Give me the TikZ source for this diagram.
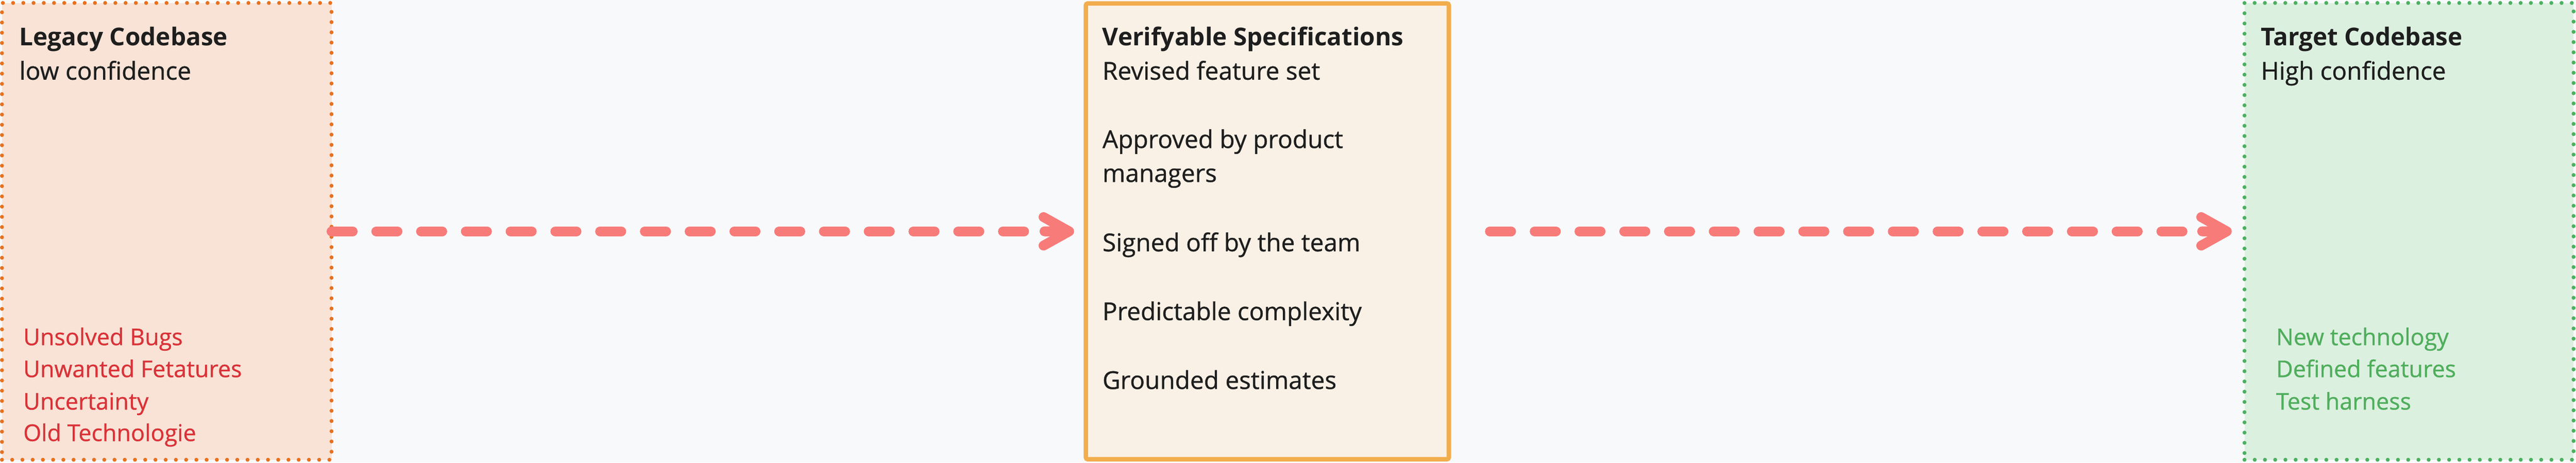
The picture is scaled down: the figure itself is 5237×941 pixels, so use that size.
\documentclass[tikz,border=0pt]{standalone}
\usepackage{fontspec}
\setmainfont{Open Sans}
\newfontfamily\medfont{Open Sans}[FakeBold=0.8]
\usetikzlibrary{calc}
\definecolor{bgc}{HTML}{F8F9FB}
\definecolor{legf}{HTML}{F8E3D6}
\definecolor{legb}{HTML}{E8711E}
\definecolor{redt}{HTML}{DA3238}
\definecolor{specf}{HTML}{FAF1E6}
\definecolor{specb}{HTML}{F2AD4D}
\definecolor{tgtf}{HTML}{DCF0E0}
\definecolor{tgtb}{HTML}{4CB060}
\definecolor{greent}{HTML}{4FAE5C}
\definecolor{arrowc}{HTML}{F77B79}
\definecolor{ink}{HTML}{1E1E1E}
\tikzset{
  dotbox/.style={draw, line width=4pt, dash pattern=on 0pt off 10.4pt, line cap=round, inner sep=0pt, outer sep=0pt},
  solidbox/.style={draw, line width=4.5pt, rounded corners=2pt, inner sep=0pt, outer sep=0pt},
  titletext/.style={anchor=base west, inner sep=0pt, font=\fontsize{25}{30}\selectfont\bfseries, text=ink},
  bodytext/.style={anchor=base west, inner sep=0pt, font=\fontsize{25}{30}\selectfont\medfont, text=ink},
  redtext/.style={anchor=base west, inner sep=0pt, font=\fontsize{23.5}{28}\selectfont\medfont, text=redt},
  greentext/.style={anchor=base west, inner sep=0pt, font=\fontsize{23.5}{28}\selectfont\medfont, text=greent},
  flow/.style={draw=arrowc, line width=10pt, line cap=round, dash pattern=on 21.5pt off 24pt},
  head/.style={draw=arrowc, line width=10pt, line cap=round, line join=round},
}
\begin{document}
\begin{tikzpicture}[x=0.5pt,y=-0.5pt]
\fill[bgc] (0,0) rectangle (5237,941);
\useasboundingbox (0,0) rectangle (5237,941);

% boxes
\node[dotbox, draw=legb, fill=legf, minimum width=335pt, minimum height=464.5pt] (leg) at (339,470.5) {};
\node[solidbox, draw=specb, fill=specf, minimum width=369pt, minimum height=463.5pt] (spec) at (2576.5,470.5) {};
\node[dotbox, draw=tgtb, fill=tgtf, minimum width=334.5pt, minimum height=464.5pt] (tgt) at (4897.5,470.5) {};

% legacy texts
\node[titletext] (legtitle) at (39,93) {Legacy Codebase};
\node[bodytext] (legsub) at (39,162) {low confidence};
\node[redtext] (leg1) at (47,702) {Unsolved Bugs};
\node[redtext] (leg2) at (47,767) {Unwanted Fetatures};
\node[redtext] (leg3) at (47,833) {Uncertainty};
\node[redtext] (leg4) at (47,897) {Old Technologie};

% spec texts
\node[titletext] (spectitle) at (2241,93) {Verifyable Specifications};
\node[bodytext] (spec1) at (2241,162) {Revised feature set};
\node[bodytext] (spec2) at (2241,301) {Approved by product};
\node[bodytext] (spec2b) at (2241,370) {managers};
\node[bodytext] (spec3) at (2241,511) {Signed off by the team};
\node[bodytext] (spec4) at (2241,651) {Predictable complexity};
\node[bodytext] (spec5) at (2241,791) {Grounded estimates};

% target texts
\node[titletext] (tgttitle) at (4596,93) {Target Codebase};
\node[bodytext] (tgtsub) at (4596,162) {High confidence};
\node[greentext] (tgt1) at (4627,702) {New technology};
\node[greentext] (tgt2) at (4627,767) {Defined features};
\node[greentext] (tgt3) at (4627,833) {Test harness};

% arrows
\coordinate (tipA) at ($(spec.west)+(-34,0)$);
\coordinate (stemA) at ($(tipA)+(-50,0)$);
\draw[flow] (leg.east) -- (stemA);
\draw[head] ($(tipA)+(-52,-29)$) -- (tipA) -- ($(tipA)+(-52,29)$) (stemA) -- (tipA);

\coordinate (startB) at ($(spec.east)+(83.5,0)$);
\coordinate (tipB) at ($(tgt.west)+(-36,0)$);
\coordinate (stemB) at ($(tipB)+(-50,0)$);
\draw[flow] (startB) -- (stemB);
\draw[head] ($(tipB)+(-52,-29)$) -- (tipB) -- ($(tipB)+(-52,29)$) (stemB) -- (tipB);
\end{tikzpicture}
\end{document}
